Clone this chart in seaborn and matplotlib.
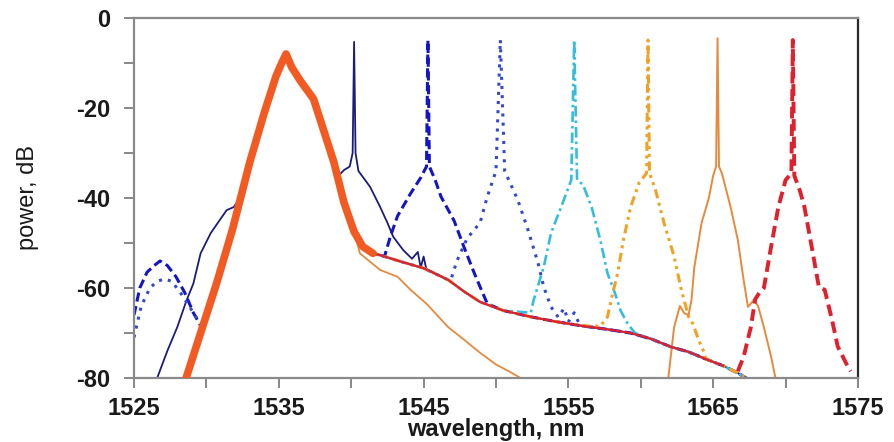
import matplotlib
matplotlib.use("Agg")
import matplotlib.pyplot as plt
import seaborn as sns
import pandas as pd

# ---------------- data ----------------
# shared pump spectrum (all traces)
pump_wl = [1528.6, 1529.6, 1530.7, 1531.8, 1533.0, 1534.0, 1534.8, 1535.2, 1535.5,
           1535.9, 1536.5, 1537.4, 1538.2, 1538.8, 1539.5, 1540.2, 1540.8, 1541.5]
pump_db = [-80, -70, -59, -47, -32, -21, -13, -10, -8,
           -11, -14, -18, -26, -32, -41, -47.5, -50.8, -52.3]

# shared noise floor after the pump
floor_wl = [1542.0, 1543.5, 1545.0, 1546.7, 1547.8, 1548.9, 1550.5, 1552.4, 1554.0, 1555.9,
            1557.5, 1559.3, 1560.7, 1562.1, 1563.3, 1564.5, 1565.7, 1566.7, 1567.3]
floor_db = [-52.7, -54.2, -55.6, -58.2, -60.8, -63.1, -65.0, -66.4, -67.4, -68.4,
            -69.1, -70.0, -71.3, -73.1, -74.2, -75.8, -77.3, -78.9, -80.0]

# 1540 nm signal (navy, solid)
s1540_left_wl = [1526.6, 1527.3, 1528.0, 1528.6, 1529.1, 1529.6, 1530.3, 1530.9, 1531.4, 1531.9, 1532.4]
s1540_left_db = [-80, -74, -68.6, -63, -59, -52.3, -47.8, -45, -42.7, -42, -39.5]
s1540_hump_wl = [1539.0, 1539.5, 1539.9, 1540.1, 1540.2, 1540.3, 1540.5, 1541.3, 1542.0, 1542.5,
                 1542.9, 1543.6, 1544.2, 1544.6, 1544.8, 1545.0, 1545.2, 1545.5]
s1540_hump_db = [-35.5, -33.8, -33, -30, -5.3, -30, -34, -37.5, -42, -45.5,
                 -48.6, -51.6, -53.5, -52, -55.5, -53, -56, -56.2]

# 1545 nm signal (blue, dashed)
s1545_left_wl = [1525.0, 1525.4, 1525.9, 1526.4, 1526.8, 1527.3, 1527.9, 1528.5, 1529.1, 1529.7]
s1545_left_db = [-66, -60, -56.5, -55, -54, -55, -57.5, -61, -65.5, -69]
s1545_hump_wl = [1542.3, 1542.7, 1543.2, 1544.1, 1544.8, 1545.2, 1545.3, 1545.4, 1545.8, 1546.2,
                 1547.1, 1547.8, 1548.5, 1549.0, 1549.4]
s1545_hump_db = [-53, -48.6, -44, -39, -35.5, -33, -4.9, -33, -36, -39.7,
                 -45, -51, -56.7, -60.5, -63.5]

# 1550 nm signal (blue, dotted)
s1550_left_wl = [1525.0, 1525.5, 1526.1, 1526.6, 1527.1, 1527.6, 1528.2, 1528.8, 1529.4, 1529.9]
s1550_left_db = [-71, -64, -60, -58.5, -58, -58.5, -61, -64, -67, -67]
s1550_hump_wl = [1546.9, 1547.3, 1548.0, 1548.9, 1549.4, 1550.0, 1550.3, 1550.6, 1551.5, 1552.2,
                 1552.9, 1553.3, 1553.8, 1554.3, 1554.7, 1555.0, 1555.4, 1555.8]
s1550_hump_db = [-58, -54, -49, -45.5, -39.7, -34, -4.9, -34, -40.4, -47,
                 -54.4, -59.8, -64.2, -66.5, -64.5, -67.5, -65.5, -68.3]

# 1555 nm signal (cyan, dash-dot)
s1555_hump_wl = [1552.4, 1552.6, 1553.3, 1553.8, 1554.5, 1555.2, 1555.4, 1555.6, 1556.0, 1556.6,
                 1557.2, 1557.7, 1558.2, 1558.6, 1559.1, 1559.6]
s1555_hump_db = [-65.5, -62.7, -55.3, -47.8, -42, -36, -4.9, -36, -37, -42,
                 -49.3, -56.7, -61, -65, -68, -70]

# 1560 nm signal (orange, dash-dot)
s1560_hump_wl = [1557.2, 1557.7, 1558.0, 1558.4, 1558.8, 1559.3, 1559.9, 1560.4, 1560.5, 1560.6,
                 1561.0, 1561.6, 1562.3, 1562.8, 1563.3, 1563.6, 1564.0, 1564.4]
s1560_hump_db = [-68.5, -66.4, -62, -56.7, -49.3, -42, -36.5, -34.5, -4.9, -34.5,
                 -38, -45.5, -53, -60.4, -66.4, -68, -71.6, -74.5]

# 1565 nm signal (light orange, solid) - lower floor and its own peak
s1565_low_wl = [1540.6, 1542.0, 1543.2, 1544.1, 1545.2, 1546.7, 1547.8, 1548.9, 1550.0, 1551.0, 1551.7]
s1565_low_db = [-52.3, -56, -57.5, -60.4, -63.5, -68.7, -71.5, -74.4, -77, -78.7, -80]
s1565_hump_wl = [1561.9, 1562.3, 1562.7, 1563.0, 1563.3, 1563.5, 1563.7, 1564.2, 1564.7, 1565.0,
                 1565.2, 1565.3, 1565.4, 1565.6, 1566.2, 1566.7, 1567.1, 1567.4, 1567.8, 1568.1,
                 1568.5, 1569.0, 1569.3]
s1565_hump_db = [-80, -68.7, -64, -65.6, -66, -62.7, -55.3, -45.5, -40, -35,
                 -33, -4.5, -33, -34.5, -42, -49.3, -58.2, -64.2, -62.7, -64,
                 -68.7, -75.3, -80]

# 1570 nm signal (red, dashed)
s1570_hump_wl = [1566.7, 1567.1, 1567.6, 1567.9, 1568.2, 1568.5, 1569.0, 1569.5, 1570.0, 1570.4,
                 1570.5, 1570.6, 1571.0, 1571.3, 1571.8, 1572.3, 1572.7, 1573.2, 1573.6, 1574.3, 1574.5]
s1570_hump_db = [-78.5, -75.3, -68.7, -62.5, -61, -60, -50.8, -42, -36, -34.5,
                 -4.9, -35, -38.5, -42, -50.8, -59.8, -60.4, -67, -73, -77.5, -78.5]

x_major = [1525, 1535, 1545, 1555, 1565, 1575]
x_minor = [1530, 1540, 1550, 1560, 1570]
y_major = [0, -20, -40, -60, -80]
y_minor = [-10, -30, -50, -70]
y_labels = ["0", "-20", "-40", "-60", "-80"]


def assemble(left_wl, left_db, hump_wl, hump_db):
    """Join idler (optional), shared pump, shared floor and the signal hump."""
    wl, db = [], []
    lo = left_wl[-1] if left_wl else -1
    wl += list(left_wl); db += list(left_db)
    for w, d in zip(pump_wl, pump_db):
        if lo < w < hump_wl[0]:
            wl.append(w); db.append(d)
    for w, d in zip(floor_wl, floor_db):
        if pump_wl[-1] < w < hump_wl[0]:
            wl.append(w); db.append(d)
    wl += list(hump_wl); db += list(hump_db)
    for w, d in zip(floor_wl, floor_db):
        if w > hump_wl[-1]:
            wl.append(w); db.append(d)
    return pd.DataFrame({"wl": wl, "db": db})


sns.set_theme(style="white")
plt.rcParams["axes.unicode_minus"] = False
plt.rcParams["font.family"] = ["Liberation Sans", "DejaVu Sans"]

fig = plt.figure(figsize=(8.94, 4.42), dpi=100)
ax = fig.add_axes([134 / 894, 1 - 378 / 442, (858 - 134) / 894, (378 - 18) / 442])

traces = [
    (assemble(s1540_left_wl, s1540_left_db, s1540_hump_wl, s1540_hump_db), "#1c1c7e", 1.3, None),
    (assemble(s1545_left_wl, s1545_left_db, s1545_hump_wl, s1545_hump_db), "#1414c8", 2.2, (3, 1.5)),
    (assemble(s1550_left_wl, s1550_left_db, s1550_hump_wl, s1550_hump_db), "#3447cf", 2.2, (1, 2)),
    (assemble([], [], s1555_hump_wl, s1555_hump_db), "#35bde0", 1.9, (4, 1.5, 1, 1.5)),
    (assemble([], [], s1560_hump_wl, s1560_hump_db), "#f0a224", 2.2, (3, 1.5, 1, 1.5, 1, 1.5)),
]
for df, col, lw, dash in traces:
    sns.lineplot(data=df, x="wl", y="db", sort=False, estimator=None, ax=ax,
                 color=col, lw=lw)
    if dash is not None:
        ax.lines[-1].set_dashes(dash)

# 1565 trace: pump + lower floor, then its own peak
col65 = "#e8893c"
df65a = pd.DataFrame({"wl": [w for w in pump_wl if w < s1565_low_wl[0]] + s1565_low_wl,
                      "db": [d for w, d in zip(pump_wl, pump_db) if w < s1565_low_wl[0]] + s1565_low_db})
sns.lineplot(data=df65a, x="wl", y="db", sort=False, estimator=None, ax=ax, color=col65, lw=1.3)
df65b = pd.DataFrame({"wl": s1565_hump_wl, "db": s1565_hump_db})
sns.lineplot(data=df65b, x="wl", y="db", sort=False, estimator=None, ax=ax, color=col65, lw=1.4)

# 1570 trace (red dashed), floor drawn solid red
df70 = assemble([], [], s1570_hump_wl, s1570_hump_db)
sns.lineplot(data=df70[df70.wl < s1570_hump_wl[0]], x="wl", y="db", sort=False, estimator=None,
             ax=ax, color="#e0202c", lw=1.6)
sns.lineplot(data=df70[df70.wl >= s1570_hump_wl[0]], x="wl", y="db", sort=False, estimator=None,
             ax=ax, color="#e0202c", lw=2.8)
ax.lines[-1].set_dashes((3, 1.5))

# thick pump band (overlapping noisy traces)
dfp = pd.DataFrame({"wl": pump_wl, "db": pump_db})
sns.lineplot(data=dfp, x="wl", y="db", sort=False, estimator=None, ax=ax,
             color="#f25a22", lw=5.5, zorder=5)

ax.set_xlim(1525, 1575)
ax.set_ylim(-80, 0)
ax.set_xticks(x_major)
ax.set_xticks(x_minor, minor=True)
ax.set_yticks(y_major)
ax.set_yticks(y_minor, minor=True)
ax.set_yticklabels(y_labels)
ax.tick_params(which="both", direction="out", length=7, width=1.3, color="#7f7f7f",
               left=True, bottom=True, top=False, right=False)
ax.tick_params(axis="x", which="major", labelsize=17, pad=7, labelcolor="#1a1a1a")
ax.tick_params(axis="y", which="major", labelsize=17, pad=10, labelcolor="#1a1a1a")
for lab in ax.get_xticklabels() + ax.get_yticklabels():
    lab.set_fontweight("bold")

for s in ["left", "bottom", "top"]:
    ax.spines[s].set_color("#8a8a8a")
    ax.spines[s].set_linewidth(1.6)
ax.spines["right"].set_color("#2a2a2a")
ax.spines["right"].set_linewidth(1.6)
ax.grid(False)

ax.set_xlabel("wavelength, nm", fontsize=17, color="#1a1a1a", fontweight="bold", va="baseline")
ax.xaxis.set_label_coords(0.5, -(436 - 378) / 360)
ax.set_ylabel("power, dB", fontsize=17, color="#1a1a1a", va="center",
              family=["Liberation Sans Narrow", "Liberation Sans", "DejaVu Sans"])
ax.yaxis.set_label_coords(-(134 - 28) / 724, 0.5)

fig.savefig("out.png", dpi=100)
